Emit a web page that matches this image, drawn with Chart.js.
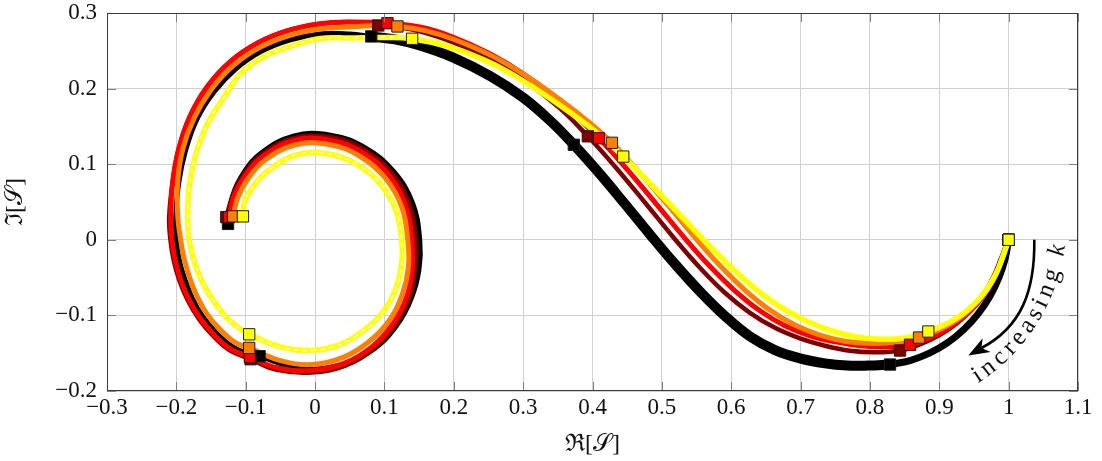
<!DOCTYPE html>
<html>
<head>
<meta charset="utf-8">
<script src="https://cdn.jsdelivr.net/npm/chart.js@4.4.0/dist/chart.umd.min.js"></script>
<style>
  html, body { margin: 0; padding: 0; background: #ffffff; }
  #wrap { width: 1102px; height: 461px; }
</style>
</head>
<body>
<div id="wrap"><canvas id="c" width="1102" height="461"></canvas></div>
<script>
// Tick positions for both axes
const xTicks = [-0.3, -0.2, -0.1, 0, 0.1, 0.2, 0.3, 0.4, 0.5, 0.6, 0.7, 0.8, 0.9, 1.0, 1.1];
const yTicks = [-0.2, -0.1, 0, 0.1, 0.2, 0.3];

// Trajectories of S in the complex plane, one per k (points [Re, Im])
const yellowCurve = [
  [1,0],[0.9919,-0.0218],[0.9818,-0.045],[0.9689,-0.0652],[0.953,-0.0827],[0.9342,-0.0978],[0.9112,-0.1109],[0.8842,-0.1213],
  [0.8506,-0.1298],[0.8145,-0.1314],[0.7784,-0.1281],[0.7424,-0.1198],[0.7063,-0.1066],[0.6703,-0.0884],[0.6342,-0.0646],[0.5982,-0.0349],[0.5592,0.0009],[0.5217,0.037],[0.4828,0.0745],[0.4443,0.1101],
  [0.4034,0.1438],[0.353,0.178],[0.2996,0.2104],[0.252,0.2344],[0.1986,0.254],[0.1399,0.2659],
  [0.0933,0.2676],[0.0505,0.2669],[0.0079,0.2664],[-0.0329,0.2564],[-0.0727,0.2428],[-0.1072,0.2196],[-0.1321,0.1869],[-0.1553,0.1529],[-0.1715,0.1142],[-0.181,0.073],[-0.1836,0.0308],[-0.1822,0.0046],[-0.1765,-0.0208],[-0.1678,-0.0448],[-0.1558,-0.0673],[-0.1409,-0.0876],[-0.124,-0.1061],[-0.095,-0.125],
  [-0.0462,-0.1427],[-0.0048,-0.1464],[0.0356,-0.1389],[0.0702,-0.1201],[0.0982,-0.0954],[0.1164,-0.0651],[0.1248,-0.0328],[0.1251,-0.001],[0.1165,0.0396],[0.0936,0.0747],[0.0591,0.1004],[0.0173,0.1138],[-0.0265,0.1124],[-0.0643,0.0935],[-0.0864,0.0739],[-0.1015,0.0503],[-0.104,0.031]
];
const orangeCurve = [
  [1,0],[0.9941,-0.0147],[0.9862,-0.0358],[0.9746,-0.057],[0.9602,-0.0762],[0.9429,-0.0929],[0.9227,-0.1073],[0.8982,-0.1197],[0.8708,-0.1293],
  [0.8362,-0.1357],[0.8001,-0.137],[0.764,-0.1343],[0.728,-0.1261],[0.6919,-0.1128],[0.6559,-0.093],[0.6198,-0.0665],[0.5837,-0.0341],[0.5477,0.0029],[0.5087,0.0458],[0.4683,0.0884],[0.428,0.1283],
  [0.3962,0.1545],[0.353,0.1855],[0.2996,0.2197],[0.252,0.2446],[0.1986,0.2656],[0.1582,0.2767],[0.1188,0.2822],
  [0.084,0.2832],[0.0502,0.2815],[0.0061,0.2789],[-0.0375,0.2702],[-0.0795,0.2545],[-0.1176,0.2306],[-0.1496,0.1987],[-0.1744,0.1609],[-0.191,0.1189],[-0.1982,0.0749],[-0.198,0.0308],[-0.1944,0.0036],[-0.1892,-0.0231],[-0.1813,-0.0491],[-0.1705,-0.0742],[-0.1562,-0.0976],[-0.1375,-0.1181],[-0.1157,-0.1356],[-0.095,-0.143],
  [-0.0511,-0.1594],[-0.0048,-0.165],[0.0404,-0.1556],[0.0789,-0.1339],[0.1085,-0.1048],[0.1264,-0.0704],[0.1346,-0.0352],[0.1337,-0.001],[0.1253,0.0425],[0.1018,0.0811],[0.0652,0.1102],[0.0196,0.1261],[-0.029,0.1254],[-0.0718,0.1056],[-0.0955,0.0823],[-0.1115,0.0556],[-0.118,0.031]
];
const redCurve = [
  [1,0],[0.9919,-0.0212],[0.9833,-0.0426],[0.9703,-0.0652],[0.9545,-0.0849],[0.9357,-0.1017],[0.9126,-0.117],[0.8866,-0.1294],[0.8578,-0.1389],
  [0.8217,-0.1415],[0.7857,-0.1402],[0.7496,-0.1349],[0.7135,-0.127],[0.6775,-0.1138],[0.6414,-0.0939],[0.6054,-0.0675],[0.5693,-0.0351],[0.5332,0.002],[0.49,0.0496],[0.4467,0.0964],[0.4092,0.1343],
  [0.353,0.1833],[0.2996,0.22],[0.252,0.2462],[0.1986,0.2683],[0.151,0.2814],[0.1044,0.2865],
  [0.05,0.2881],[0.005,0.2855],[-0.0397,0.2766],[-0.0829,0.2603],[-0.1223,0.2356],[-0.1553,0.2027],[-0.1803,0.1634],[-0.1966,0.1202],[-0.2054,0.0757],[-0.2081,0.0308],[-0.2066,0.0024],[-0.2019,-0.0257],[-0.1936,-0.053],[-0.1815,-0.0794],[-0.1656,-0.1037],[-0.1457,-0.1255],[-0.1223,-0.1442],[-0.094,-0.155],
  [-0.054,-0.1696],[-0.0048,-0.1729],[0.0427,-0.1632],[0.0832,-0.1407],[0.1135,-0.1094],[0.1327,-0.0737],[0.1402,-0.0365],[0.1395,-0.001],[0.1308,0.0443],[0.1069,0.0849],[0.0684,0.1153],[0.0208,0.1319],[-0.0301,0.1314],[-0.0747,0.1102],[-0.0997,0.0861],[-0.1165,0.0583],[-0.124,0.030]
];
const darkRedCurve = [
  [1,0],[0.9962,-0.0074],[0.989,-0.0246],[0.9775,-0.05],[0.9631,-0.0732],[0.9458,-0.093],[0.9256,-0.1103],[0.9011,-0.1255],[0.8737,-0.1376],[0.8434,-0.1465],
  [0.8073,-0.1488],[0.7712,-0.1468],[0.7352,-0.1402],[0.6991,-0.1303],[0.6631,-0.1164],[0.627,-0.0966],[0.5909,-0.0701],[0.5549,-0.037],[0.5159,0.0041],[0.4756,0.0493],[0.4323,0.097],[0.3933,0.1369],
  [0.353,0.1739],[0.2996,0.2122],[0.252,0.2384],[0.1986,0.2614],[0.151,0.2758],[0.1222,0.2806],[0.0909,0.2835],
  [0.05,0.2881],[0.005,0.2855],[-0.0397,0.2766],[-0.0829,0.2603],[-0.1223,0.2356],[-0.1553,0.2027],[-0.1803,0.1634],[-0.1966,0.1202],[-0.2054,0.0757],[-0.2103,0.0308],[-0.2088,0.0022],[-0.2041,-0.0261],[-0.1956,-0.0537],[-0.1834,-0.0803],[-0.1673,-0.1049],[-0.1472,-0.1269],[-0.1236,-0.1458],[-0.093,-0.158],
  [-0.0548,-0.1721],[-0.0048,-0.1755],[0.0436,-0.1664],[0.085,-0.1435],[0.1161,-0.1118],[0.1365,-0.0757],[0.1444,-0.0376],[0.1453,-0.001],[0.1362,0.0462],[0.1106,0.088],[0.071,0.1193],[0.0215,0.1359],[-0.0309,0.1345],[-0.0765,0.1131],[-0.1017,0.088],[-0.1184,0.0593],[-0.128,0.030]
];
// The black trajectory is drawn in three pieces of different weight
const blackLead = [
  [1,0],[0.9948,-0.0255],[0.9862,-0.0493],[0.9732,-0.0743],[0.9559,-0.0981],[0.9357,-0.1184],[0.9126,-0.1358],[0.8866,-0.1496],[0.8578,-0.1597],[0.829,-0.165]
];
const blackMid = [
  [0.829,-0.165],[0.7972,-0.1664],[0.7669,-0.1664],[0.7352,-0.1635],[0.6991,-0.1569],[0.6631,-0.146],[0.627,-0.1278],[0.5909,-0.1007],[0.5549,-0.0683],[0.5188,-0.0319],[0.4828,0.0071],[0.4467,0.0475],[0.4106,0.0872],[0.3731,0.1257],[0.3385,0.158],[0.2996,0.1884],[0.252,0.2168],[0.1986,0.2413],[0.151,0.257],[0.115,0.265],[0.081,0.269]
];
const blackTail = [
  [0.081,0.269],[0.0503,0.2722],[0.0071,0.2724],[-0.0356,0.2646],[-0.0769,0.2497],[-0.1138,0.2266],[-0.1455,0.1959],[-0.1705,0.1593],[-0.1868,0.1179],[-0.1967,0.0747],[-0.2009,0.0308],[-0.2002,0.0029],[-0.1963,-0.0246],[-0.1881,-0.0513],[-0.177,-0.0773],[-0.162,-0.1015],[-0.1427,-0.1228],[-0.1199,-0.141],[-0.1,-0.1497],[-0.080,-0.154],
  [-0.0368,-0.1677],[-0.0048,-0.1716],[0.0428,-0.1639],[0.0854,-0.1442],[0.1177,-0.1132],[0.1389,-0.077],[0.1499,-0.0389],[0.151,-0.001],[0.1409,0.0478],[0.1135,0.0901],[0.0724,0.1217],[0.0221,0.1385],[-0.0313,0.1372],[-0.0776,0.1148],[-0.1027,0.0889],[-0.1184,0.0593],[-0.1255,0.021]
];

// Square markers at the sampled instants along each trajectory
const blackMarks   = [[1,0],[0.829,-0.165],[0.3731,0.1257],[0.081,0.269],[-0.080,-0.154],[-0.1255,0.021]];
const darkRedMarks = [[1,0],[0.8434,-0.1465],[0.3933,0.1369],[0.0909,0.2835],[-0.093,-0.158],[-0.128,0.030]];
const redMarks     = [[1,0],[0.8578,-0.1389],[0.4092,0.1343],[0.1044,0.2865],[-0.094,-0.155],[-0.124,0.030]];
const orangeMarks  = [[1,0],[0.8708,-0.1293],[0.428,0.1283],[0.1188,0.2822],[-0.095,-0.143],[-0.118,0.031]];
const yellowMarks  = [[1,0],[0.8842,-0.1213],[0.4443,0.1101],[0.1399,0.2659],[-0.095,-0.125],[-0.104,0.031]];

const COLORS = { black: '#000000', darkRed: '#800000', red: '#ff0000', orange: '#ff8000', yellow: '#ffff00' };
const SERIF = '"Liberation Serif", "DejaVu Serif", serif';

const pts = arr => arr.map(([x, y]) => ({ x, y }));

function lineSet(data, color, width, order) {
  return {
    data: pts(data), showLine: true, borderColor: color, backgroundColor: color,
    borderWidth: width, pointRadius: 0, pointHoverRadius: 0, tension: 0.4,
    borderJoinStyle: 'round', borderCapStyle: 'butt', order
  };
}
function markSet(data, color, order) {
  return {
    data: pts(data), showLine: false, pointStyle: 'rect', pointRadius: 8, pointHoverRadius: 8,
    backgroundColor: color, borderColor: '#1c1c1c', borderWidth: 1, order
  };
}

// Thin white dashes running inside the yellow spiral, from its third marker onwards
const yellowSpiralStart = yellowCurve.findIndex(p => p[0] === yellowMarks[3][0] && p[1] === yellowMarks[3][1]);
const yellowDash = Object.assign(lineSet(yellowCurve, '#ffffff', 1.3, 4.5), {
  borderDash: [5, 4],
  segment: { borderColor: c => (c.p0DataIndex >= yellowSpiralStart ? '#ffffff' : 'rgba(0,0,0,0)') }
});

function fmt(v) {
  const r = Math.round(v * 10) / 10;
  if (r === 0) return '0';
  return (r < 0 ? '\u2212' : '') + String(Math.abs(r));
}

// Frame, inward ticks, axis titles and the "increasing k" arrow
const decor = {
  id: 'decor',
  afterDraw(chart) {
    const { ctx, chartArea: a, scales: { x, y } } = chart;
    ctx.save();
    ctx.lineWidth = 1;
    ctx.strokeStyle = '#808080';
    const TL = 9;
    ctx.beginPath();
    xTicks.forEach(v => {
      const px = Math.round(x.getPixelForValue(v)) + 0.5;
      ctx.moveTo(px, a.top); ctx.lineTo(px, a.top + TL);
      ctx.moveTo(px, a.bottom); ctx.lineTo(px, a.bottom - TL);
    });
    yTicks.forEach(v => {
      const py = Math.round(y.getPixelForValue(v)) + 0.5;
      ctx.moveTo(a.left, py); ctx.lineTo(a.left + TL, py);
      ctx.moveTo(a.right, py); ctx.lineTo(a.right - TL, py);
    });
    ctx.stroke();
    ctx.strokeStyle = '#3a3a3a';
    ctx.strokeRect(Math.round(a.left) + 0.5, Math.round(a.top) + 0.5,
                   Math.round(a.right - a.left) - 1, Math.round(a.bottom - a.top) - 1);

    // axis titles
    ctx.fillStyle = '#111';
    ctx.font = '24px ' + SERIF;
    ctx.textAlign = 'center'; ctx.textBaseline = 'middle';
    ctx.fillText('\u211C[\uD835\uDCAE]', (a.left + a.right) / 2, 445);
    ctx.save();
    ctx.translate(16, (a.top + a.bottom) / 2);
    ctx.rotate(-Math.PI / 2);
    ctx.fillText('\u2111[\uD835\uDCAE]', 0, 0);
    ctx.restore();

    // arrow
    const P = (vx, vy) => [x.getPixelForValue(vx), y.getPixelForValue(vy)];
    const s = P(1.037, 0.0), c1 = P(1.038, -0.067), c2 = P(1.019, -0.1147),
          b = P(0.9645, -0.1412), tip = P(0.9419, -0.153);
    let dx = tip[0] - b[0], dy = tip[1] - b[1];
    const len = Math.hypot(dx, dy); dx /= len; dy /= len;
    const nx = -dy, ny = dx, L = 21, W = 8;
    const back = [tip[0] - dx * L, tip[1] - dy * L];
    const inset = [tip[0] - dx * L * 0.72, tip[1] - dy * L * 0.72];
    ctx.strokeStyle = '#000'; ctx.lineWidth = 2.6;
    ctx.beginPath();
    ctx.moveTo(s[0], s[1]);
    ctx.bezierCurveTo(c1[0], c1[1], c2[0], c2[1], inset[0], inset[1]);
    ctx.stroke();
    ctx.fillStyle = '#000';
    ctx.beginPath();
    ctx.moveTo(tip[0], tip[1]);
    ctx.lineTo(back[0] + nx * W, back[1] + ny * W);
    ctx.lineTo(inset[0], inset[1]);
    ctx.lineTo(back[0] - nx * W, back[1] - ny * W);
    ctx.closePath();
    ctx.fill();

    // label set along a circular arc beside the arrow
    const st = P(0.9543, -0.1795), en = P(1.0696, -0.0137), cen = P(0.8084, 0.0228);
    const R = Math.hypot(st[0] - cen[0], st[1] - cen[1]);
    const a0 = Math.atan2(st[1] - cen[1], st[0] - cen[0]);
    const a1 = Math.atan2(en[1] - cen[1], en[0] - cen[0]);
    const chars = 'increasing k'.split('');
    const fonts = chars.map((ch, i) => (i === chars.length - 1 ? 'italic 25px ' : '25px ') + SERIF);
    const widths = chars.map((ch, i) => { ctx.font = fonts[i]; return ctx.measureText(ch).width; });
    const arcLen = R * (a0 - a1);
    const natural = widths.reduce((p, w) => p + w, 0) - (widths[0] + widths[widths.length - 1]) / 2;
    const gap = (arcLen - natural) / (chars.length - 1);
    let d = 0;
    ctx.fillStyle = '#111'; ctx.textAlign = 'center'; ctx.textBaseline = 'alphabetic';
    chars.forEach((ch, i) => {
      if (i > 0) d += widths[i - 1] / 2 + gap + widths[i] / 2;
      const phi = a0 - d / R;
      const px = cen[0] + R * Math.cos(phi), py = cen[1] + R * Math.sin(phi);
      ctx.save();
      ctx.translate(px, py);
      ctx.rotate(phi - Math.PI / 2);
      ctx.font = fonts[i];
      ctx.fillText(ch, 0, 7);
      ctx.restore();
    });
    ctx.restore();
  }
};

new Chart(document.getElementById('c'), {
  type: 'scatter',
  data: {
    datasets: [
      markSet(yellowMarks, COLORS.yellow, 0),
      markSet(orangeMarks, COLORS.orange, 1),
      markSet(redMarks, COLORS.red, 2),
      markSet(darkRedMarks, COLORS.darkRed, 3),
      markSet(blackMarks, COLORS.black, 4),
      yellowDash,
      lineSet(yellowCurve, COLORS.yellow, 5.5, 5),
      lineSet(orangeCurve, COLORS.orange, 5, 6),
      lineSet(redCurve, COLORS.red, 5, 7),
      lineSet(darkRedCurve, COLORS.darkRed, 4.5, 8),
      lineSet(blackTail, COLORS.black, 5, 9),
      lineSet(blackLead, COLORS.black, 7, 10),
      lineSet(blackMid, COLORS.black, 10, 11)
    ]
  },
  options: {
    responsive: false,
    animation: false,
    devicePixelRatio: 1,
    events: [],
    layout: { padding: { left: 0, right: 24, top: 13, bottom: 0 } },
    plugins: { legend: { display: false }, tooltip: { enabled: false } },
    scales: {
      x: {
        type: 'linear', min: -0.3, max: 1.1,
        afterBuildTicks: s => { s.ticks = xTicks.map(v => ({ value: v })); },
        afterFit: s => { s.height = 70; s.paddingLeft = 0; s.paddingRight = 0; },
        grid: { color: '#d0d0d0', lineWidth: 1, drawTicks: false },
        border: { display: false },
        ticks: { callback: v => fmt(v), color: '#111', padding: 5, maxRotation: 0, autoSkip: false,
                 font: { family: SERIF, size: 23, lineHeight: 1 } }
      },
      y: {
        type: 'linear', min: -0.2, max: 0.3,
        afterBuildTicks: s => { s.ticks = yTicks.map(v => ({ value: v })); },
        afterFit: s => { s.width = 107; s.paddingTop = 0; s.paddingBottom = 0; },
        grid: { color: '#d0d0d0', lineWidth: 1, drawTicks: false },
        border: { display: false },
        ticks: { callback: v => fmt(v), color: '#111', padding: 10,
                 font: { family: SERIF, size: 23, lineHeight: 1 } }
      }
    }
  },
  plugins: [decor]
});
</script>
</body>
</html>
